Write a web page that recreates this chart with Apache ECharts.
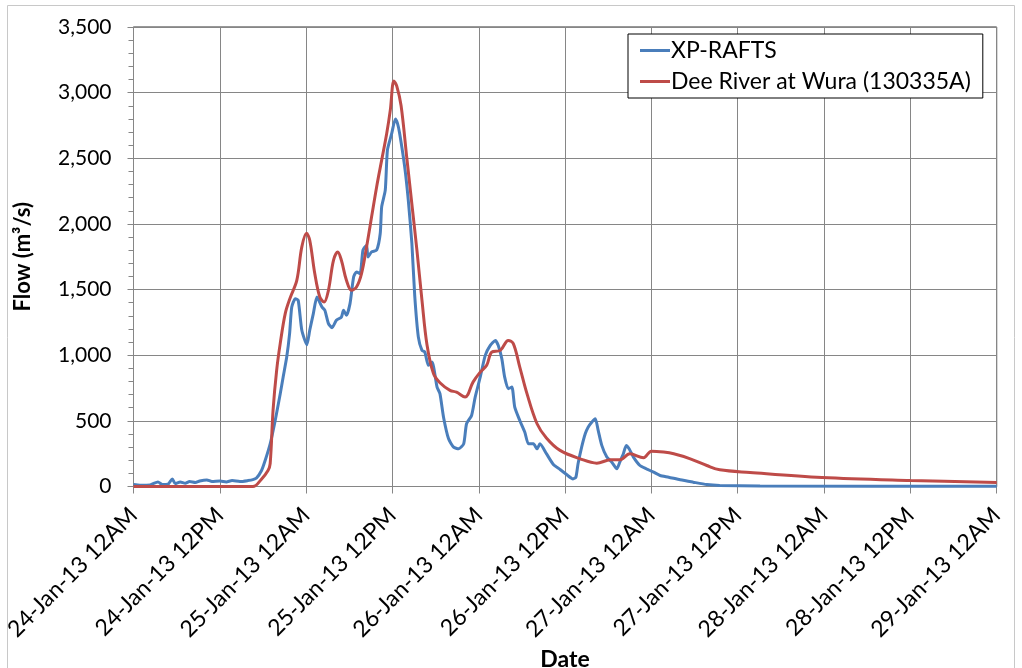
<!DOCTYPE html>
<html>
<head>
<meta charset="utf-8">
<script src="https://cdn.jsdelivr.net/npm/echarts@6/dist/echarts.min.js"></script>
<style>html,body{margin:0;padding:0;background:#fff}#c{width:1022px;height:668px}</style>
</head>
<body>
<div id="c"></div>
<script>
// Tick labels (every 12 hours from 24-Jan-13 00:00)
const xLabels = ['24-Jan-13 12AM','24-Jan-13 12PM','25-Jan-13 12AM','25-Jan-13 12PM','26-Jan-13 12AM','26-Jan-13 12PM','27-Jan-13 12AM','27-Jan-13 12PM','28-Jan-13 12AM','28-Jan-13 12PM','29-Jan-13 12AM'];

// XP-RAFTS: hours since 24-Jan-13 00:00, flow (m3/s)
const rafHours = [0.0,0.9,2.3,3.4,4.0,4.8,5.4,5.8,6.5,7.2,7.8,8.6,9.2,10.2,10.9,12.0,12.9,13.7,14.8,15.9,16.6,17.1,17.8,18.3,19.0,19.7,20.4,20.8,21.3,21.7,22.0,22.5,22.9,23.4,24.1,24.5,25.0,25.5,26.2,26.6,27.1,27.6,28.2,28.9,29.2,29.6,30.1,30.6,31.0,31.5,31.9,32.4,32.6,33.1,33.8,34.3,34.5,35.0,35.3,35.9,36.4,36.7,37.0,37.7,38.2,38.7,39.1,39.6,40.1,40.5,41.0,41.5,42.2,42.6,43.1,43.8,44.5,45.2,45.9,46.3,47.0,47.5,48.2,48.9,49.6,50.3,50.7,51.2,51.6,52.1,52.6,53.0,53.7,54.4,54.9,55.6,56.1,56.5,57.4,58.4,59.3,60.2,61.1,61.5,61.8,62.3,62.8,63.2,63.7,64.2,64.6,65.1,65.8,66.5,67.2,67.6,68.1,68.5,68.9,69.5,70.4,71.3,72.3,73.2,74.4,76.0,77.8,79.7,81.5,87.1,120];
const rafFlow  = [15,10,12,35,15,18,58,22,35,25,38,30,42,50,38,42,35,45,38,45,52,65,122,198,325,503,707,833,986,1164,1367,1431,1418,1190,1080,1190,1317,1443,1367,1342,1241,1210,1266,1291,1342,1304,1393,1596,1634,1622,1800,1838,1748,1787,1800,1927,2130,2257,2562,2689,2800,2766,2689,2435,2181,1851,1450,1138,1037,1024,923,948,757,707,528,363,300,287,325,478,541,681,833,999,1075,1113,1075,974,833,745,757,605,503,414,325,325,287,325,250,165,130,91,58,71,173,300,402,452,490,516,427,313,224,185,135,185,249,313,287,224,160,135,109,84,71,51,33,15,8,3,2];

// Dee River at Wura (130335A): hours, flow (m3/s)
const deeHours = [0,16.6,17.7,18.7,19.0,19.4,19.9,20.4,21.1,21.8,22.7,23.4,24.05,24.5,25.2,25.9,26.5,27.1,27.8,28.4,28.9,29.6,30.3,31.0,31.7,32.4,33.1,33.8,34.5,35.2,35.7,36.2,36.6,37.2,38.0,38.7,39.4,40.1,40.8,41.7,42.6,44.0,44.9,46.1,47.2,48.2,49.1,49.8,51.0,52.1,52.8,53.7,54.7,56.1,57.4,59.3,62.1,64.4,66.3,67.6,69.0,70.9,72.0,73.7,75.1,77.4,79.7,81.5,85.7,95.7,108.0,120];
const deeFlow  = [0,0,50,122,175,580,885,1090,1319,1440,1570,1825,1929,1876,1622,1443,1405,1495,1723,1787,1723,1571,1495,1520,1622,1825,2054,2282,2486,2689,2867,3088,3050,2900,2500,2150,1800,1420,1080,860,790,732,719,681,795,871,923,1024,1037,1113,1088,910,707,478,370,275,211,178,203,203,249,219,269,262,249,211,160,127,107,69,46,30];

const zip = (a, b) => a.map((h, i) => [h, b[i]]);

const FONT = 'Lato';
const chart = echarts.init(document.getElementById('c'), null, {renderer: 'canvas'});
chart.setOption({
  animation: false,
  backgroundColor: '#ffffff',
  textStyle: {fontFamily: FONT},
  graphic: [{
    type: 'rect', shape: {x: 7.5, y: 5.5, width: 1007, height: 680},
    style: {fill: 'none', stroke: '#c8c8c8', lineWidth: 1}, silent: true, z: -1
  }],
  grid: {left: 133.5, top: 27, right: 25.3, bottom: 181.5, outerBoundsMode: 'none', containLabel: false,
         show: true, borderColor: '#303030', borderWidth: 1, backgroundColor: 'transparent'},
  legend: {
    orient: 'vertical', left: 628, top: 34,
    backgroundColor: '#fff', borderColor: '#000', borderWidth: 1,
    padding: [5, 12, 5, 12], itemGap: 8,
    itemWidth: 30, itemHeight: 3, icon: 'rect',
    textStyle: {fontSize: 23, color: '#000', fontFamily: FONT, padding: [0, 0, 0, -4]},
    data: ['XP-RAFTS', 'Dee River at Wura (130335A)']
  },
  xAxis: {
    type: 'value', min: 0, max: 120, interval: 12,
    name: 'Date', nameLocation: 'middle', nameGap: 154,
    nameTextStyle: {fontSize: 23, fontWeight: 'bold', color: '#000', fontFamily: FONT},
    axisLine: {show: true, lineStyle: {color: '#868686', width: 1}},
    axisTick: {show: true, length: 7, lineStyle: {color: '#868686'}},
    splitLine: {show: true, lineStyle: {color: '#868686', width: 1}},
    axisLabel: {
      rotate: 45, margin: 25, fontSize: 23, color: '#000', fontFamily: FONT,
      hideOverlap: false,
      formatter: v => xLabels[Math.round(v / 12)] || ''
    }
  },
  yAxis: {
    type: 'value', min: 0, max: 3500, interval: 500,
    name: 'Flow (m³/s)', nameLocation: 'middle', nameGap: 100, nameRotate: 90,
    nameTextStyle: {fontSize: 22, fontWeight: 'bold', color: '#000', fontFamily: FONT},
    axisLine: {show: true, lineStyle: {color: '#868686', width: 1}},
    axisTick: {show: true, length: 6, lineStyle: {color: '#868686'}},
    minorTick: {show: true, splitNumber: 5, length: 5, lineStyle: {color: '#868686'}},
    splitLine: {show: true, lineStyle: {color: '#868686', width: 1}},
    axisLabel: {
      margin: 22, fontSize: 21, color: '#000', fontFamily: FONT,
      formatter: v => v.toLocaleString('en-US')
    }
  },
  series: [
    {
      name: 'XP-RAFTS', type: 'line', data: zip(rafHours, rafFlow),
      showSymbol: false, smooth: 0.2,
      lineStyle: {color: '#4A7EBB', width: 3}, itemStyle: {color: '#4A7EBB'}
    },
    {
      name: 'Dee River at Wura (130335A)', type: 'line', data: zip(deeHours, deeFlow),
      showSymbol: false, smooth: 0.35,
      lineStyle: {color: '#BE4B48', width: 3}, itemStyle: {color: '#BE4B48'}
    }
  ]
});
</script>
</body>
</html>
